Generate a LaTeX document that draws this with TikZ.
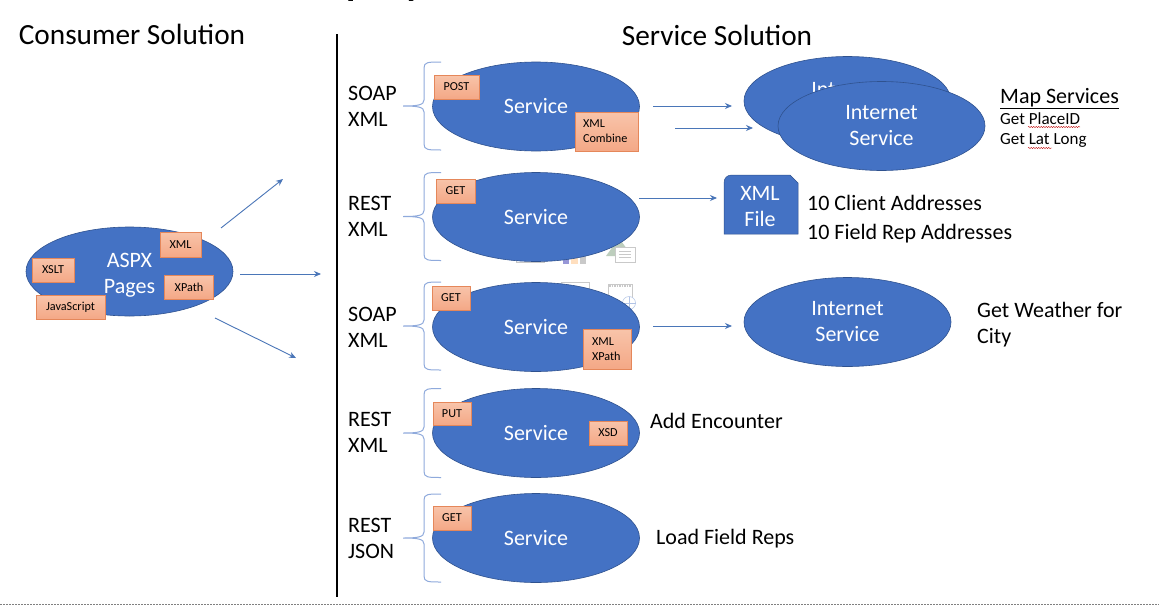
\documentclass[tikz,border=0pt]{standalone}
\usepackage{fontspec}
\setmainfont{Carlito}
\usetikzlibrary{shapes.geometric,arrows.meta,decorations.pathmorphing}
\definecolor{ellblue}{HTML}{4472C4}
\definecolor{elledge}{HTML}{2F528F}
\definecolor{boxedge}{HTML}{E5875A}
\definecolor{boxtop}{HTML}{F8C4AA}
\definecolor{boxbot}{HTML}{F4A886}
\definecolor{bracecol}{HTML}{8FAADC}
\definecolor{arrowcol}{HTML}{4A76B8}
\definecolor{ghost}{HTML}{C9C9C9}
\newcommand{\dropline}[2]{\raisebox{-#1pt}[0.7em][0.2em]{#2}}
\tikzset{
  x=1pt,y=-1pt,
  blob/.style={ellipse,draw=elledge,line width=.6pt,fill=ellblue,text=white,inner sep=0pt,
    minimum width=207pt,minimum height=89pt,align=center,
    font=\fontsize{22}{26}\selectfont},
  tagbox/.style={rectangle,draw=boxedge,line width=.8pt,top color=boxtop,bottom color=boxbot,
    inner sep=0pt,align=center,font=\fontsize{12.2}{15}\selectfont,text=black},
  lbl/.style={anchor=west,inner sep=0pt,align=left,font=\fontsize{22}{26}\selectfont,text=black},
  small/.style={anchor=west,inner sep=0pt,font=\fontsize{17}{20}\selectfont,text=black},
  title/.style={anchor=center,inner sep=0pt,font=\fontsize{29.3}{32}\selectfont,text=black},
  flow/.style={-{Stealth[length=7pt,width=6pt]},draw=arrowcol,line width=.9pt},
  bracket/.style={draw=bracecol,line width=1pt},
  ghostline/.style={draw=ghost,line width=.7pt},
  squig/.style={draw=red!75!black,line width=.4pt,decorate,decoration={snake,amplitude=.6pt,segment length=2.5pt}}
}
\newcommand{\bracketat}[2]{% y centre, half height
  \coordinate (t) at (441,#1-#2);
  \coordinate (b) at (441,#1+#2);
  \coordinate (m) at (403,#1);
  \draw[bracket] (t) .. controls (428,#1-#2) and (424,#1-#2) .. (424,#1-#2+6)
    -- (424,#1-6) .. controls (424,#1-1) and (418,#1) .. (m)
    .. controls (418,#1) and (424,#1+1) .. (424,#1+6)
    -- (424,#1+#2-6) .. controls (424,#1+#2) and (428,#1+#2) .. (b);
}
\begin{document}
\begin{tikzpicture}
\useasboundingbox (0,0) rectangle (1159,605);
\fill[white] (0,0) rectangle (1159,605);
% cropped heading at the top edge
\begin{scope}
\clip (0,0) rectangle (1159,605);
\node[inner sep=0pt,anchor=base west,font=\bfseries\fontsize{38}{40}\selectfont] (head) at (346,-5) {pany};
\end{scope}
% titles
\node[title] (consumer) at (132,34) {Consumer Solution};
\node[title] (service) at (717,35) {Service Solution};
% divider
\coordinate (divtop) at (337,34);
\coordinate (divbot) at (337,597);
\draw[line width=2pt,black] (divtop) -- (divbot);
% bottom dashed line
\coordinate (dashl) at (0,604);
\coordinate (dashr) at (1159,604);
\draw[draw=gray,line width=.8pt,dash pattern=on 2pt off 1pt] (dashl) -- (dashr);
% faint icons behind the services
\draw[ghostline] (516,250) -- (516,262.5) -- (544,262.5) -- (544,250);
\fill[fill=blue!25!ghost] (563,250) rectangle (569,264);
\fill[fill=orange!25!white] (571,250) rectangle (578,264);
\fill[fill=ghost] (580,250) rectangle (586,264);
\fill[fill=green!15!gray!45] (606,256) -- (619,238) -- (632,256) -- cycle;
\draw[ghostline,fill=white] (615,247) rectangle (635,262);
\foreach \yy in {251,254,257} \draw[ghostline] (619,\yy) -- (631,\yy);
\draw[ghostline] (561,300) -- (561,282) -- (589,282) -- (589,300);
\draw[ghostline] (608,300) -- (608,284) -- (632,284) -- (632,300);
\draw[ghost,line width=2pt,dash pattern=on 1.5pt off 1pt] (609,286) -- (631,286);
\draw[draw=bracecol!70,fill=white,line width=.5pt] (629,303) circle (6.5);
\draw[draw=bracecol!70,line width=.4pt] (622.5,303) -- (635.5,303) (629,296.5) -- (629,309.5);
% left ellipse
\node[blob] (aspx) at (129.5,271.5) {\dropline{3}{ASPX}\\\dropline{3}{Pages}};
\node[tagbox,minimum width=41pt,minimum height=25pt] (xml) at (180.5,244.5) {XML};
\node[tagbox,minimum width=42pt,minimum height=24pt] (xslt) at (53,270) {XSLT};
\node[tagbox,minimum width=49pt,minimum height=24pt] (xpath) at (189,287) {XPath};
\node[tagbox,minimum width=69pt,minimum height=24pt] (js) at (70.5,307) {JavaScript};
% outgoing arrows
\coordinate (a1s) at (221,228); \coordinate (a1e) at (283,179);
\coordinate (a2s) at (240,274); \coordinate (a2e) at (321,274);
\coordinate (a3s) at (215,318); \coordinate (a3e) at (296,358);
\draw[flow] (a1s) -- (a1e);
\draw[flow] (a2s) -- (a2e);
\draw[flow] (a3s) -- (a3e);
% services
\node[blob] (s1) at (536,106.5) {Service};
\node[blob] (s2) at (536,217) {Service};
\node[blob] (s3) at (536,327) {Service};
\node[blob] (s4) at (536,433) {Service};
\node[blob] (s5) at (536,538) {Service};
\node[tagbox,minimum width=45pt,minimum height=24pt] (post) at (456.5,87) {POST};
\node[tagbox,minimum width=63pt,minimum height=39pt,align=left,text width=47pt] (combine) at (606.5,131.5) {XML\\Combine};
\node[tagbox,minimum width=39pt,minimum height=24pt] (get2) at (455.5,191) {GET};
\node[tagbox,minimum width=38pt,minimum height=24pt] (get3) at (451,298) {GET};
\node[tagbox,minimum width=48pt,minimum height=40pt,align=left,text width=30pt] (xx) at (607,349) {XML\\XPath};
\node[tagbox,minimum width=38pt,minimum height=23pt] (put) at (452,413.5) {PUT};
\node[tagbox,minimum width=38pt,minimum height=24pt] (xsd) at (608,433) {XSD};
\node[tagbox,minimum width=38pt,minimum height=24pt] (get5) at (452,518) {GET};
% brackets
\bracketat{106}{44}
\bracketat{216.5}{44}
\bracketat{326}{44}
\bracketat{433}{44.5}
\bracketat{538}{44}
% protocol labels
\node[lbl] (p1) at (348,106.5) {SOAP\\XML};
\node[lbl] (p2) at (348,216.5) {REST\\XML};
\node[lbl] (p3) at (348,327.5) {SOAP\\XML};
\node[lbl] (p4) at (348,432.5) {REST\\XML};
\node[lbl] (p5) at (348,538.5) {REST\\JSON};
% internet services
\node[blob] (net1) at (847.5,101) {\dropline{3}{Internet}\\\dropline{3}{Service}};
\node[blob] (net2) at (881.5,126) {\dropline{1}{Internet}\\\dropline{1}{Service}};
\node[blob] (net3) at (847.5,322) {\dropline{1}{Internet}\\\dropline{1}{Service}};
% arrows right
\coordinate (b1s) at (653,106); \coordinate (b1e) at (732,106);
\coordinate (b2s) at (675,128); \coordinate (b2e) at (753,128);
\coordinate (b3s) at (639,198); \coordinate (b3e) at (717,198);
\coordinate (b4s) at (653,326); \coordinate (b4e) at (732,326);
\draw[flow] (b1s) -- (b1e);
\draw[flow] (b2s) -- (b2e);
\draw[flow] (b3s) -- (b3e);
\draw[flow] (b4s) -- (b4e);
% XML file
\path[fill=ellblue,draw=elledge,line width=.5pt] (724,234) -- (724,183) .. controls (724,178) and (727,175) .. (732,175) -- (790,175) -- (798,183) -- (798,234) -- cycle;
\node[inner sep=0pt,align=center,text=white,font=\fontsize{22}{26}\selectfont] (file) at (760,207) {XML\\File};
% side labels
\node[lbl,font=\fontsize{22}{24}\selectfont] (map) at (1000,98.5) {\underline{Map Services}};
\node[small] (place) at (1000,119) {Get PlaceID};
\node[small] (lat) at (1000,140.5) {Get Lat Long};
\coordinate (sq1s) at (1028,127); \coordinate (sq1e) at (1080,127);
\coordinate (sq2s) at (1028,148); \coordinate (sq2e) at (1052,148);
\draw[squig] (sq1s) -- (sq1e);
\draw[squig] (sq2s) -- (sq2e);
\node[lbl] (c1) at (807,202.5) {10 Client Addresses};
\node[lbl] (c2) at (807,233.5) {10 Field Rep Addresses};
\node[lbl] (wx) at (977,324.5) {Get Weather for\\City};
\node[lbl] (enc) at (650,421) {Add Encounter};
\node[lbl] (load) at (656,538.5) {Load Field Reps};
\end{tikzpicture}
\end{document}
